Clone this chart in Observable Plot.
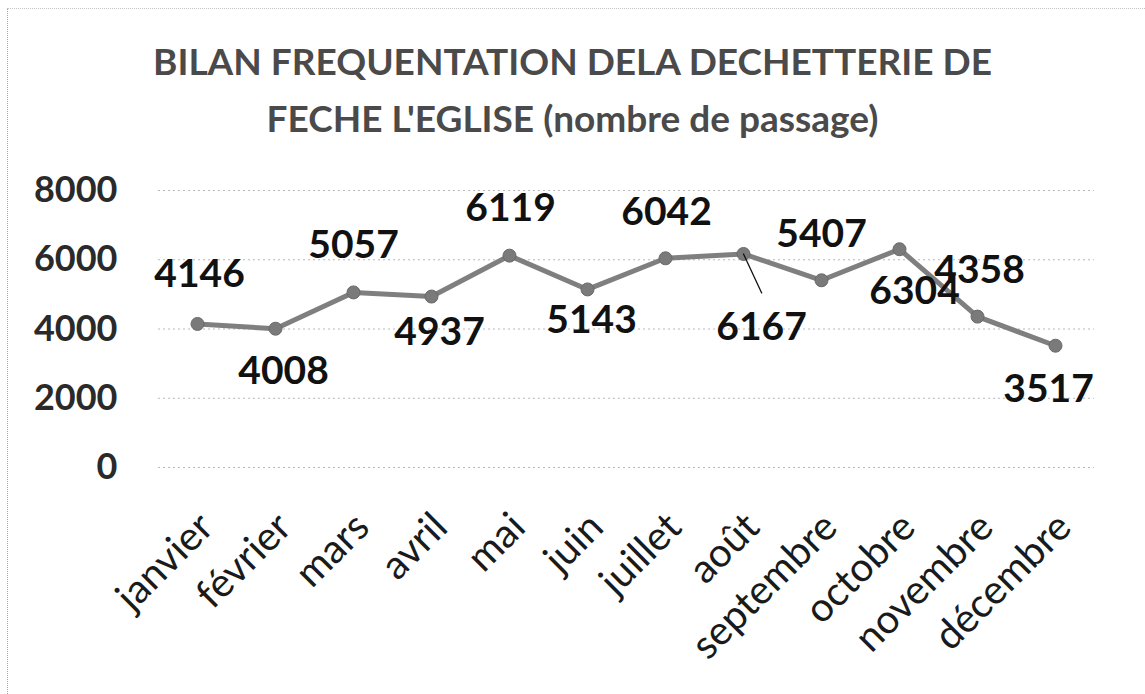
<!DOCTYPE html>
<html>
<head>
<meta charset="utf-8">
<script src="https://cdn.jsdelivr.net/npm/d3@7"></script>
<script src="https://cdn.jsdelivr.net/npm/@observablehq/plot@0.6"></script>
<style>
  html, body { margin: 0; padding: 0; background: #fff; }
  #wrap { position: relative; width: 1145px; height: 694px; overflow: hidden; background: #fff; }
  #frame { position: absolute; left: 7px; top: 8px; right: -10px; bottom: -10px;
           border-left: 1px dotted #a8a8a8; border-top: 1px dotted #c4c4c4; }
  #title { position: absolute; left: 0; top: 32px; width: 1145px; text-align: center;
           font-family: Lato, sans-serif; font-weight: 700; font-size: 37px; line-height: 57px;
           color: #4a4a4a; }
  #chart { position: absolute; left: 0; top: 0; }
</style>
</head>
<body>
<div id="wrap">
  <div id="frame"></div>
  <div id="chart"></div>
  <div id="title">BILAN FREQUENTATION DELA DECHETTERIE DE<br>FECHE L'EGLISE (nombre de passage)</div>
</div>
<script>
// ---- data ----
const months = ["janvier", "février", "mars", "avril", "mai", "juin", "juillet", "août", "septembre", "octobre", "novembre", "décembre"];
const passages = [4146, 4008, 5057, 4937, 6119, 5143, 6042, 6167, 5407, 6304, 4358, 3517];
const yTicks = [0, 2000, 4000, 6000, 8000];

// ---- label placement (layout only, pixel offsets of each value label) ----
const labelDx = [2, 8, 0, 8, 1, 4, 1, 18, 0, 15, 2, -7];
const labelDy = [-49, 43, -47, 36, -47, 31, -46, 74, -46, 42, -46, 44];

const rows = months.map((m, i) => ({month: m, value: passages[i]}));
const leader = rows.filter(d => d.month === "août");

const font = "Lato, sans-serif";
const leaderShape = {draw(context, l) { context.moveTo(0, 0); context.lineTo(0, -l); }};

const valueLabels = rows.map((d, i) =>
  Plot.text([d], {x: "month", y: "value", text: r => String(r.value), dx: labelDx[i], dy: labelDy[i],
                  fontSize: 39, fontWeight: 700, fill: "#111"})
);

const chart = Plot.plot({
  width: 1145,
  height: 694,
  marginTop: 190,
  marginBottom: 227,
  marginLeft: 158,
  marginRight: 51,
  style: {fontFamily: font, background: "transparent", overflow: "visible"},
  x: {type: "point", domain: months, padding: 0.5, label: null},
  y: {domain: [0, 8000], label: null},
  marks: [
    Plot.gridY(yTicks, {stroke: "#b8b8b8", strokeOpacity: 1, strokeWidth: 1, strokeDasharray: "2,3"}),
    Plot.axisY(yTicks, {tickSize: 0, tickPadding: 41, fontSize: 36, fontWeight: 700, fill: "#2a2a2a", tickFormat: d => String(d), label: null}),
    Plot.axisX({tickSize: 0, tickPadding: 40, tickRotate: -45, fontSize: 40, fill: "#1a1a1a", dx: 9, dy: 13, label: null}),
    Plot.line(rows, {x: "month", y: "value", stroke: "#7f7f7f", strokeWidth: 5, strokeLinejoin: "round"}),
    Plot.dot(rows, {x: "month", y: "value", r: 6.5, fill: "#7a7a7a", stroke: "#6a6a6a", strokeWidth: 1}),
    Plot.vector(leader, {x: "month", y: "value", length: 43, rotate: 155, anchor: "start", shape: leaderShape, stroke: "#111", strokeWidth: 1.3}),
    ...valueLabels
  ]
});
document.getElementById("chart").appendChild(chart);
</script>
</body>
</html>
